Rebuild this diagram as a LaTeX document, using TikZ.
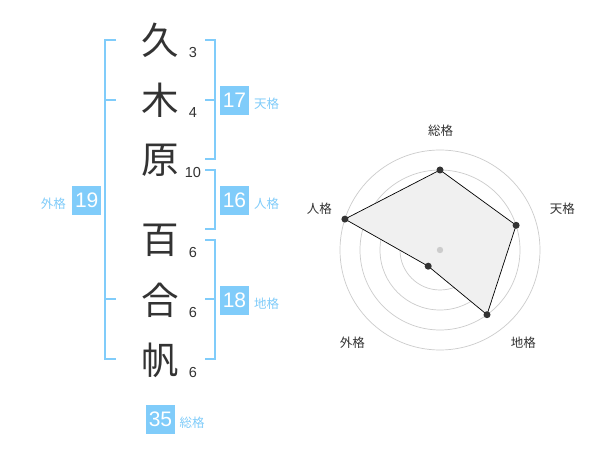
\documentclass[tikz,border=0pt]{standalone}
\usepackage{fontspec}
\setmainfont{Liberation Sans}
\newfontfamily\jp{Noto Sans CJK JP}
\definecolor{sky}{RGB}{128,204,250}
\definecolor{ink}{RGB}{51,51,51}
\definecolor{ringc}{RGB}{204,204,204}
\definecolor{areac}{RGB}{240,240,240}
\begin{document}
\begin{tikzpicture}[x=1pt,y=-1pt,
  kanji/.style={font=\jp\fontsize{37.5}{37.5}\selectfont, text=ink, inner sep=0pt},
  strokes/.style={font=\fontsize{14.5}{14.5}\selectfont, text=ink, inner sep=0pt},
  valbox/.style={fill=sky, text=white, minimum width=29pt, minimum height=29pt, inner sep=0pt, font=\fontsize{21}{21}\selectfont},
  lbl/.style={font=\jp\fontsize{12.5}{12.5}\selectfont, text=sky, inner sep=0pt},
  brk/.style={draw=sky, line width=2pt},
  ring/.style={draw=ringc, line width=0.7pt},
  axislbl/.style={font=\jp\fontsize{12.5}{12.5}\selectfont, text=ink, inner sep=0pt},
  dot/.style={circle, fill=ink, inner sep=0pt, minimum size=7pt},
]
\useasboundingbox (0,0) rectangle (600,470);
\fill[white] (0,0) rectangle (600,470);

% name characters
\node[kanji] (k1) at (160.5,40) {久};
\node[kanji] (k2) at (160.5,100) {木};
\node[kanji] (k3) at (160.5,160) {原};
\node[kanji] (k4) at (160.5,240) {百};
\node[kanji] (k5) at (160.5,300) {合};
\node[kanji] (k6) at (160.5,360) {帆};

% stroke counts
\node[strokes] (s1) at (193,53) {3};
\node[strokes] (s2) at (193,113) {4};
\node[strokes] (s3) at (193,173) {10};
\node[strokes] (s4) at (193,253) {6};
\node[strokes] (s5) at (193,313) {6};
\node[strokes] (s6) at (193,373) {6};

% brackets
\draw[brk] (116,40) -- (105,40) -- (105,359) -- (116,359);
\draw[brk] (105,100) -- (116,100);
\draw[brk] (105,299) -- (116,299);

\draw[brk] (205,40) -- (215,40) -- (215,159) -- (205,159);
\draw[brk] (205,100) -- (215,100);

\draw[brk] (205,170) -- (215,170) -- (215,229) -- (205,229);

\draw[brk] (205,240) -- (215,240) -- (215,359) -- (205,359);
\draw[brk] (205,299) -- (215,299);

% value boxes
\node[valbox] (ten) at (234.5,100.5) {17};
\node[lbl, anchor=west] (tenl) at (254,104) {天格};
\node[valbox] (jin) at (234.5,200.5) {16};
\node[lbl, anchor=west] (jinl) at (254,204) {人格};
\node[valbox] (chi) at (234.5,300.2) {18};
\node[lbl, anchor=west] (chil) at (254,304) {地格};
\node[valbox] (gai) at (86.7,200.5) {19};
\node[lbl, anchor=east] (gail) at (66,204) {外格};
\node[valbox] (sou) at (160.5,419.5) {35};
\node[lbl, anchor=west] (soul) at (179.5,423) {総格};

% radar chart
\coordinate (c) at (440,250);
\foreach \r in {20,40,60,80,100} \draw[ring] (c) circle[radius=\r pt];
\coordinate (pS) at (440,170);
\coordinate (pT) at (516.1,225.3);
\coordinate (pC) at (487.0,314.7);
\coordinate (pG) at (428.2,266.2);
\coordinate (pJ) at (344.9,219.1);
\filldraw[fill=areac, draw=black, line width=0.7pt] (pS) -- (pT) -- (pC) -- (pG) -- (pJ) -- cycle;
\fill[ringc] (c) circle[radius=3.2pt];
\foreach \p in {pS,pT,pC,pG,pJ} \node[dot] at (\p) {};

\node[axislbl] (aS) at (440.7,130.7) {総格};
\node[axislbl] (aT) at (562.3,208.3) {天格};
\node[axislbl] (aC) at (523.3,342.3) {地格};
\node[axislbl] (aG) at (352.3,342.3) {外格};
\node[axislbl] (aJ) at (319.3,208.3) {人格};
\end{tikzpicture}
\end{document}
